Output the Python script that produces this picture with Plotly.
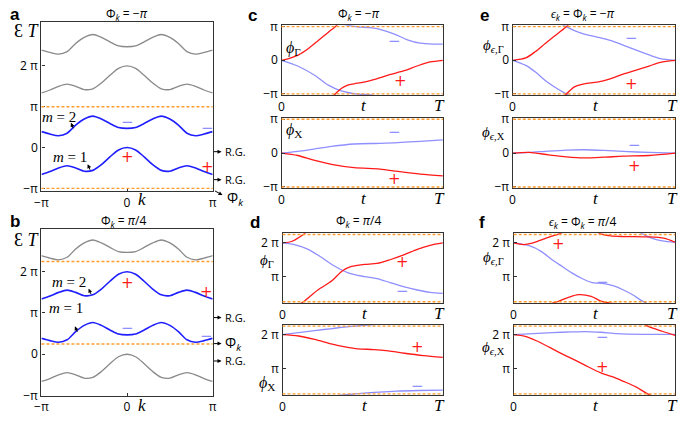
import plotly.graph_objects as go

W, H = 685, 423

# ---------------- data (all phases / energies in units of pi) ----------------
k_vals = [-1.0, -0.9, -0.8, -0.7, -0.6, -0.5, -0.4, -0.3, -0.2, -0.1, 0.0,
          0.1, 0.2, 0.3, 0.4, 0.5, 0.6, 0.7, 0.8, 0.9, 1.0]
band_m1 = [-0.66, -0.59, -0.50, -0.445, -0.50, -0.58, -0.56, -0.42, -0.23, -0.06, 0.0,
           -0.06, -0.23, -0.42, -0.56, -0.58, -0.50, -0.445, -0.50, -0.59, -0.66]
band_m2 = [0.39, 0.33, 0.29, 0.35, 0.55, 0.70, 0.77, 0.70, 0.59, 0.49, 0.47,
           0.49, 0.59, 0.70, 0.77, 0.70, 0.55, 0.35, 0.29, 0.33, 0.39]

# panel c (Phi_k = -pi), unwrapped phases
t_c_G_red = [0, 0.045, 0.106, 0.167, 0.228, 0.289, 0.333, 0.37, 0.41, 0.45, 0.51, 0.59, 0.67, 0.76, 0.84, 0.92, 1.0]
c_G_red = [0, 0.05, 0.16, 0.35, 0.59, 0.83, 1.0, 1.16, 1.26, 1.30, 1.35, 1.45, 1.57, 1.69, 1.83, 1.95, 2.0]
t_c_G_blue = [0, 0.1, 0.21, 0.29, 0.37, 0.46, 0.55, 0.61, 0.7, 0.78, 0.86, 0.94, 1.0]
c_G_blue = [0, -0.17, -0.46, -0.74, -0.91, -1.0, -1.03, -1.08, -1.22, -1.39, -1.49, -1.52, -1.52]
t_c_X = [0, 0.1, 0.2, 0.31, 0.45, 0.61, 0.72, 0.86, 1.0]
c_X_blue = [0, 0.05, 0.12, 0.20, 0.27, 0.29, 0.31, 0.35, 0.39]
c_X_red = [0, -0.07, -0.21, -0.33, -0.43, -0.47, -0.54, -0.62, -0.67]

# panel d (Phi_k = pi/4)
t_d_G_red = [0, 0.06, 0.13, 0.22, 0.31, 0.37, 0.43, 0.51, 0.59, 0.67, 0.76, 0.84, 0.92, 1.0]
d_G_red = [2.0, 2.05, 2.25, 2.6, 2.88, 3.16, 3.3, 3.36, 3.39, 3.5, 3.65, 3.81, 3.93, 4.0]
t_d_G_blue = [0, 0.08, 0.16, 0.24, 0.31, 0.41, 0.51, 0.59, 0.67, 0.76, 0.84, 0.92, 1.0]
d_G_blue = [2.0, 1.94, 1.81, 1.58, 1.35, 1.11, 1.0, 0.94, 0.82, 0.69, 0.6, 0.53, 0.5]
t_d_X_blue = [0, 0.1, 0.2, 0.31, 0.45, 0.6, 0.71, 0.85, 1.0]
d_X_blue = [2.0, 2.06, 2.12, 2.18, 2.25, 2.3, 2.33, 2.35, 2.36]
t_d_X_red = [0, 0.1, 0.2, 0.31, 0.39, 0.47, 0.57, 0.66, 0.76, 0.88, 1.0]
d_X_red = [2.0, 1.96, 1.86, 1.72, 1.64, 1.58, 1.56, 1.52, 1.45, 1.38, 1.33]

# panel e (eps_k = Phi_k = -pi)
t_e_G = [0, 0.08, 0.14, 0.2, 0.26, 0.33, 0.38, 0.44, 0.52, 0.6, 0.68, 0.76, 0.84, 0.91, 1.0]
e_G_red = [0, 0.07, 0.26, 0.5, 0.73, 1.0, 1.21, 1.3, 1.35, 1.45, 1.59, 1.71, 1.83, 1.94, 2.0]
e_G_blue = [0, -0.15, -0.35, -0.6, -0.8, -1.0, -1.12, -1.22, -1.31, -1.41, -1.55, -1.7, -1.84, -1.95, -2.0]
t_e_X = [0, 0.1, 0.22, 0.33, 0.44, 0.56, 0.68, 0.84, 1.0]
e_X_blue = [0, 0.02, 0.06, 0.09, 0.10, 0.08, 0.05, 0.02, 0.0]
e_X_red = [0, 0.02, -0.05, -0.11, -0.14, -0.12, -0.09, -0.07, 0.0]

# panel f (eps_k = Phi_k = pi/4)
t_f_G_blue = [0, 0.1, 0.17, 0.24, 0.3, 0.36, 0.42, 0.48, 0.56, 0.62, 0.68, 0.74, 0.79, 0.85, 0.92, 1.0]
f_G_blue = [2.0, 1.91, 1.75, 1.49, 1.3, 1.11, 0.95, 0.83, 0.79, 0.72, 0.6, 0.45, 0.29, 0.15, 0.06, 0.02]
t_f_G_red = [0, 0.06, 0.12, 0.2, 0.28, 0.34, 0.4, 0.48, 0.54, 0.6, 0.68, 0.83, 0.93, 1.0]
f_G_red = [2.0, 1.95, 2.0, 2.14, 2.27, 2.38, 2.46, 2.41, 2.27, 2.21, 2.19, 2.18, 2.14, 2.02]
t_f_X_blue = [0, 0.12, 0.24, 0.36, 0.44, 0.54, 0.64, 0.8, 1.0]
f_X_blue = [2.0, 2.03, 2.06, 2.08, 2.09, 2.07, 2.03, 2.01, 2.01]
t_f_X_red = [0, 0.07, 0.14, 0.22, 0.3, 0.37, 0.44, 0.54, 0.61, 0.68, 0.76, 0.83, 0.92, 1.0]
f_X_red = [2.0, 1.95, 1.82, 1.63, 1.43, 1.27, 1.1, 0.87, 0.76, 0.62, 0.45, 0.25, 0.1, -0.02]

# time-axis labels
t_ticks = [0, 0.5, 1]
t_labels = ["0", "<i>t</i>", "<i>T</i>"]

# ---------------- styles ----------------
BLUE = "#1f1fff"
GRAY = "#8a8a8a"
RED = "#ff1a1a"
LBLUE = "#8f8fff"
ORANGE = "#ff9d2e"
FRAME = "#333333"
SANS = "Open Sans"
SERIF = "Liberation Serif"

# panel boxes in pixels: (x0, x1, y0, y1), ranges
panels = [
    ("a",  (35, 209, 16, 191),    [-1, 1], [-1.071, 3.066]),
    ("b",  (35, 209, 230, 403),   [-1, 1], [-1.005, 3.04]),
    ("cG", (279, 443, 19, 91.5),  [0, 1], [-1.04, 1.04]),
    ("cX", (279, 443, 115, 188),  [0, 1], [-1.04, 1.04]),
    ("dG", (280, 443, 234.5, 307), [0, 1], [0.21, 2.29]),
    ("dX", (280, 443, 329.5, 402.5), [0, 1], [0.21, 2.29]),
    ("eG", (514, 679, 19, 91.5),  [0, 1], [-1.04, 1.04]),
    ("eX", (514, 679, 115, 188),  [0, 1], [-1.04, 1.04]),
    ("fG", (515, 679, 234.5, 307), [0, 1], [0.21, 2.29]),
    ("fX", (515, 679, 329.5, 402.5), [0, 1], [0.21, 2.29]),
]
idx = {p[0]: i + 1 for i, p in enumerate(panels)}


def ax_names(name):
    i = idx[name]
    return ("x" if i == 1 else f"x{i}"), ("y" if i == 1 else f"y{i}")


fig = go.Figure()


def line(name, x, y, color, width=1.5):
    xa, ya = ax_names(name)
    fig.add_trace(go.Scatter(x=x, y=y, mode="lines", xaxis=xa, yaxis=ya,
                             line=dict(color=color, width=width, shape="spline", smoothing=0.8),
                             hoverinfo="skip", showlegend=False))


def shift(v, s):
    return [u + s for u in v]


def wrapped(name, t, v, color, width=1.3):
    # draw the unwrapped phase and its 2*pi copies; the axis range clips them
    xs, ys = [], []
    for s in (-4, -2, 0, 2, 4):
        xs += list(t) + [None]
        ys += shift(v, s) + [None]
    line(name, xs, ys, color, width)


# panel a
line("a", k_vals, shift(band_m1, 2), GRAY, 1.3)
line("a", k_vals, shift(band_m2, 2), GRAY, 1.3)
line("a", k_vals, band_m2, BLUE, 1.6)
line("a", k_vals, band_m1, BLUE, 1.6)
# panel b
line("b", k_vals, shift(band_m2, 2), GRAY, 1.3)
line("b", k_vals, band_m1, GRAY, 1.3)
line("b", k_vals, shift(band_m1, 2), BLUE, 1.6)
line("b", k_vals, band_m2, BLUE, 1.6)
# panels c-f
wrapped("cG", t_c_G_blue, c_G_blue, LBLUE)
wrapped("cG", t_c_G_red, c_G_red, RED)
wrapped("cX", t_c_X, c_X_blue, LBLUE)
wrapped("cX", t_c_X, c_X_red, RED)
wrapped("dG", t_d_G_blue, d_G_blue, LBLUE)
wrapped("dG", t_d_G_red, d_G_red, RED)
wrapped("dX", t_d_X_blue, d_X_blue, LBLUE)
wrapped("dX", t_d_X_red, d_X_red, RED)
wrapped("eG", t_e_G, e_G_blue, LBLUE)
wrapped("eG", t_e_G, e_G_red, RED)
wrapped("eX", t_e_X, e_X_blue, LBLUE)
wrapped("eX", t_e_X, e_X_red, RED)
wrapped("fG", t_f_G_blue, f_G_blue, LBLUE)
wrapped("fG", t_f_G_red, f_G_red, RED)
wrapped("fX", t_f_X_blue, f_X_blue, LBLUE)
wrapped("fX", t_f_X_red, f_X_red, RED)

# ---------------- axes ----------------
layout = dict(width=W, height=H, margin=dict(l=0, r=0, t=0, b=0),
              paper_bgcolor="white", plot_bgcolor="white", showlegend=False)

ytick_sets = {
    "ab": ([-1, 0, 1, 2], ["−π", "0", "π", "2 π"]),
    "ce": ([-1, 0, 1], ["−π", "0", "π"]),
    "df": ([1, 2], ["π", "2 π"]),
}
for name, (x0, x1, y0, y1), xr, yr in panels:
    i = idx[name]
    xk = "xaxis" if i == 1 else f"xaxis{i}"
    yk = "yaxis" if i == 1 else f"yaxis{i}"
    xa, ya = ax_names(name)
    common = dict(showline=True, mirror=True, linecolor=FRAME, linewidth=1.4,
                  showgrid=False, zeroline=False, ticks="inside", ticklen=3,
                  tickcolor=FRAME, tickwidth=1,
                  tickfont=dict(family=SANS, size=12, color="black"), fixedrange=True)
    if name in ("a", "b"):
        xt = dict(tickvals=[-1, 0, 1], ticktext=["−π", "0", "π"])
        yt = ytick_sets["ab"]
    else:
        xt = dict(tickvals=[], showticklabels=False)
        yt = ytick_sets["ce"] if name[0] in "ce" else ytick_sets["df"]
    layout[xk] = dict(domain=[x0 / W, x1 / W], range=xr, anchor=ya, **xt, **common)
    layout[yk] = dict(domain=[1 - y1 / H, 1 - y0 / H], range=yr, anchor=xa,
                      tickvals=yt[0], ticktext=yt[1], **common)

# orange boundary lines of the quasi-energy zone
shapes = []
zone = {"a": (-1, 1), "b": (0.25, 2.25), "cG": (-1, 1), "cX": (-1, 1), "eG": (-1, 1), "eX": (-1, 1),
        "dG": (0.25, 2.25), "dX": (0.25, 2.25), "fG": (0.25, 2.25), "fX": (0.25, 2.25)}
for name, (lo, hi) in zone.items():
    xa, ya = ax_names(name)
    for val in (lo, hi):
        shapes.append(dict(type="line", xref=f"{xa} domain", yref=ya, x0=0, x1=1, y0=val, y1=val,
                           line=dict(color=ORANGE, width=1.4, dash="3px,2px"), layer="above"))
layout["shapes"] = shapes

# ---------------- annotations ----------------
anns = []


def P(x, y, text, size=12, family=SANS, color="black", xanchor="center", yanchor="middle"):
    anns.append(dict(xref="paper", yref="paper", x=x / W, y=1 - y / H, text=text, showarrow=False,
                     font=dict(family=family, size=size, color=color),
                     xanchor=xanchor, yanchor=yanchor))


def D(name, x, y, text, color, size=15):
    xa, ya = ax_names(name)
    anns.append(dict(xref=xa, yref=ya, x=x, y=y, text=text, showarrow=False,
                     font=dict(family="DejaVu Sans", size=size, color=color)))


def arrow(xh, yh, xt, yt, width=1.0, head=2, size=0.8):
    anns.append(dict(xref="paper", yref="paper", x=xh / W, y=1 - yh / H, ax=xt - xh, ay=yt - yh,
                     text="", showarrow=True, arrowhead=head, arrowsize=size, arrowwidth=width,
                     arrowcolor="black"))


# panel letters
for letter, x, y in [("a", 8, 8), ("b", 8, 222), ("c", 250, 9), ("d", 252, 223),
                     ("e", 485, 9), ("f", 483, 223)]:
    P(x, y, f"<b>{letter}</b>", size=17, family="Liberation Sans")

# titles
P(122, 7, "Φ<sub><i>k</i></sub> = −<i>π</i>", size=12)
P(118, 222, "Φ<sub><i>k</i></sub> = <i>π</i>/4", size=12)
P(358, 7, "Φ<sub><i>k</i></sub> = −<i>π</i>", size=12)
P(357, 222, "Φ<sub><i>k</i></sub> = <i>π</i>/4", size=12)
P(585, 7, "<i>ϵ</i><sub><i>k</i></sub> = Φ<sub><i>k</i></sub> = −<i>π</i>", size=12)
P(585, 223, "<i>ϵ</i><sub><i>k</i></sub> = Φ<sub><i>k</i></sub> = <i>π</i>/4", size=12)

# a / b axis labels
P(20, 25, "Ɛ <i>T</i>", size=18, family=SERIF)
P(20, 242, "Ɛ <i>T</i>", size=18, family=SERIF)
P(137, 200, "<i>k</i>", size=17, family=SERIF)
P(137, 413, "<i>k</i>", size=17, family=SERIF)

# m labels with arrows
P(53, 114, "<i>m</i> = 2", size=15, family=SERIF)
P(64, 155, "<i>m</i> = 1", size=15, family=SERIF)
P(63, 285, "<i>m</i> = 2", size=15, family=SERIF)
P(60, 312, "<i>m</i> = 1", size=15, family=SERIF)
arrow(65, 120, 68, 127)
arrow(82, 163, 85, 170)
arrow(83, 292, 86, 299)
arrow(69, 331, 72, 338)

# right-side markers of panels a, b
for y in (150, 179, 322, 367):
    arrow(218, y, 209, y)
    P(220, y, "R.G.", size=11, xanchor="left")
arrow(219, 195, 210, 190)
P(222, 199, "Φ<sub><i>k</i></sub>", size=14, xanchor="left")
arrow(218, 349, 209, 349)
P(220, 349, "Φ<sub><i>k</i></sub>", size=14, xanchor="left")

# parity markers (data coordinates)
D("a", 0, -0.24, "+", RED)
D("a", 0.94, -0.48, "+", RED)
D("a", 0, 0.63, "−", LBLUE)
D("a", 0.94, 0.49, "−", LBLUE)
D("b", 0, 1.73, "+", RED)
D("b", 0.93, 1.5, "+", RED)
D("b", 0, 0.63, "−", LBLUE)
D("b", 0.93, 0.44, "−", LBLUE)
D("cG", 0.7, 0.58, "−", LBLUE)
D("cG", 0.74, -0.63, "+", RED)
D("cX", 0.7, 0.62, "−", LBLUE)
D("cX", 0.7, -0.76, "+", RED)
D("dG", 0.75, 1.43, "+", RED)
D("dG", 0.75, 0.56, "−", LBLUE)
D("dX", 0.84, 1.63, "+", RED)
D("dX", 0.84, 0.49, "−", LBLUE)
D("eG", 0.73, 0.67, "−", LBLUE)
D("eG", 0.73, -0.71, "+", RED)
D("eX", 0.75, 0.24, "−", LBLUE)
D("eX", 0.75, -0.39, "+", RED)
D("fG", 0.28, 1.97, "+", RED)
D("fG", 0.55, 0.84, "−", LBLUE)
D("fX", 0.55, 1.92, "−", LBLUE)
D("fX", 0.55, 1.03, "+", RED)

# phase labels
P(282, 43, "<i>ϕ</i><sub>Γ</sub>", size=16, family=SERIF, xanchor="left")
P(282, 128, "<i>ϕ</i><sub>X</sub>", size=16, family=SERIF, xanchor="left")
P(264, 263, "<i>ϕ</i><sub>Γ</sub>", size=15, family=SERIF)
P(264, 390, "<i>ϕ</i><sub>X</sub>", size=16, family=SERIF)
P(494, 40, "<i>ϕ</i><sub><i>ϵ</i>,Γ</sub>", size=15, family=SERIF)
P(494, 131, "<i>ϕ</i><sub><i>ϵ</i>,X</sub>", size=15, family=SERIF)
P(494, 260, "<i>ϕ</i><sub><i>ϵ</i>,Γ</sub>", size=15, family=SERIF)
P(494, 354, "<i>ϕ</i><sub><i>ϵ</i>,X</sub>", size=15, family=SERIF)

# time axis labels (0, t, T) placed on each panel's own time axis
for name in ("cG", "cX", "dG", "dX", "eG", "eX", "fG", "fX"):
    xa, ya = ax_names(name)
    for tv, lab in zip(t_ticks, t_labels):
        serif = lab != "0"
        anns.append(dict(xref=xa, yref=f"{ya} domain", x=tv, y=0, text=lab, showarrow=False,
                         xanchor="center", yanchor="top",
                         xshift=(-3 if tv == 1 else (2 if tv == 0.5 else 0)),
                         yshift=(1 if serif else -1),
                         font=dict(family=SERIF if serif else SANS, size=17 if serif else 12,
                                   color="black")))

layout["annotations"] = anns
fig.update_layout(**layout)
fig.write_html("out.html", config={"displayModeBar": False},
               post_script="document.body.style.margin='0';document.body.style.overflow='hidden';")
